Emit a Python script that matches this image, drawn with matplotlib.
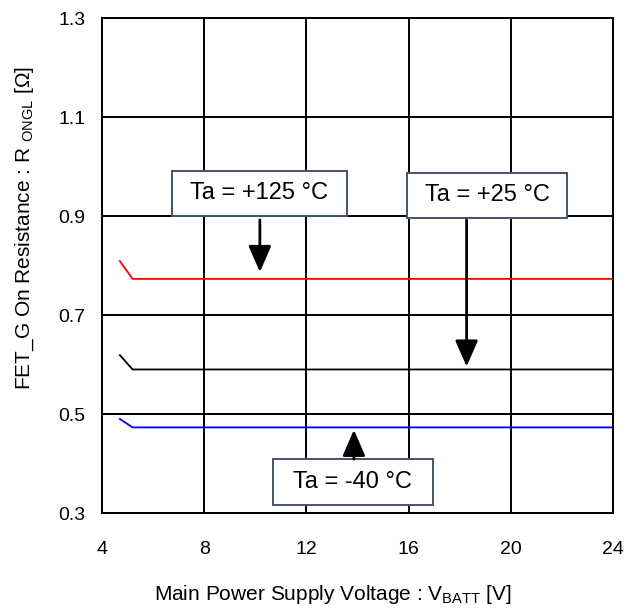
import matplotlib
matplotlib.use("Agg")
from matplotlib import pyplot as plt
from matplotlib.patches import Rectangle

plt.rcParams['font.family'] = ['Liberation Sans', 'DejaVu Sans']
plt.rcParams['mathtext.fontset'] = 'custom'
plt.rcParams['mathtext.rm'] = 'Liberation Sans'
plt.rcParams['mathtext.it'] = 'Liberation Sans'

# supply voltage [V]
vbatt = [4.7, 5.2, 24.0]
# on resistance [ohm] per temperature
r_125 = [0.809, 0.773, 0.773]
r_25 = [0.619, 0.590, 0.590]
r_m40 = [0.490, 0.473, 0.473]

x_ticks = [4, 8, 12, 16, 20, 24]
y_ticks = [0.3, 0.5, 0.7, 0.9, 1.1, 1.3]

# labels: text, box (x0, x1, y0, y1), arrow x, arrow start y, arrow end y
labels = ["Ta = +125 °C", "Ta = +25 °C", "Ta = -40 °C"]
boxes = [(6.73, 13.58, 0.901, 0.991), (15.94, 22.2, 0.897, 0.987), (10.69, 16.95, 0.316, 0.409)]
arrow_x = [10.18, 18.27, 13.86]
arrow_from = [0.892, 0.892, 0.409]
arrow_to = [0.787, 0.596, 0.468]


def main():
    fig = plt.figure(figsize=(6.33, 6.09), dpi=100)
    ax = fig.add_axes([0.1611, 0.1576, 0.8073, 0.8128])

    ax.plot(vbatt, r_125, color='#ff0000', lw=1.3, zorder=3)
    ax.plot(vbatt, r_25, color='black', lw=1.3, zorder=3)
    ax.plot(vbatt, r_m40, color='#0000ff', lw=1.3, zorder=3)

    ax.set_xlim(4, 24)
    ax.set_ylim(0.3, 1.3)
    ax.set_xticks(x_ticks)
    ax.set_yticks(y_ticks)
    ax.set_yticklabels([f"{v:.1f}" for v in y_ticks])
    ax.tick_params(length=0, labelsize=14)
    ax.tick_params(axis='x', pad=20)
    ax.tick_params(axis='y', pad=12)
    ax.grid(True, color='black', lw=1.4)
    for s in ax.spines.values():
        s.set_linewidth(1.4)

    ax.set_xlabel(r"Main Power Supply Voltage : V$_{\mathrm{BATT}}$ [V]", fontsize=15)
    ax.set_ylabel(r"FET_G On Resistance : R $_{\mathrm{ONGL}}$ [Ω]", fontsize=15)
    ax.xaxis.set_label_coords(0.452, -0.142)
    ax.yaxis.set_label_coords(-0.13, 0.575)

    for txt, (x0, x1, y0, y1), ax_x, a0, a1 in zip(labels, boxes, arrow_x, arrow_from, arrow_to):
        ax.add_patch(Rectangle((x0, y0), x1 - x0, y1 - y0, facecolor='white',
                               edgecolor='#44546a', lw=1.4, zorder=5))
        ax.text((x0 + x1) / 2, (y0 + y1) / 2, txt, ha='center', va='center',
                fontsize=17, zorder=6)
        ax.annotate("", xy=(ax_x, a1), xytext=(ax_x, a0),
                    arrowprops=dict(arrowstyle='-|>,head_length=0.8,head_width=0.35',
                                    color='black', lw=2, mutation_scale=20,
                                    shrinkA=0, shrinkB=0), zorder=6)

    fig.savefig("out.png", dpi=100)
    plt.close()


if __name__ == '__main__':
    main()
